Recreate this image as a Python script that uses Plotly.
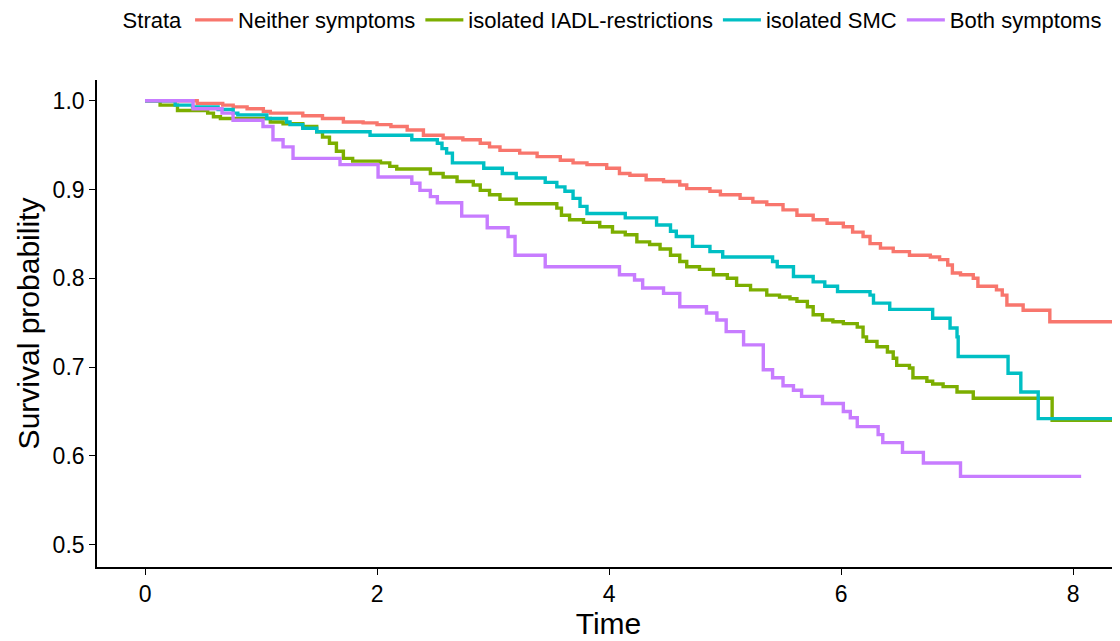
import plotly.graph_objects as go

strata = ["Neither symptoms", "isolated IADL-restrictions", "isolated SMC", "Both symptoms"]
colors = ["#F8766D", "#7CAE00", "#00BFC4", "#C77CFF"]

neither_time = [0, 0.45, 0.67, 0.76, 0.88, 1.02, 1.08, 1.36, 1.53, 1.71, 1.88, 2.0, 2.12, 2.26, 2.40,
                2.57, 2.74, 2.89, 2.97, 3.06, 3.23, 3.38, 3.58, 3.69, 3.81, 3.98, 4.09, 4.18, 4.32,
                4.47, 4.61, 4.67, 4.87, 4.96, 5.13, 5.24, 5.36, 5.50, 5.62, 5.76, 5.88, 6.02, 6.10,
                6.19, 6.25, 6.34, 6.45, 6.59, 6.77, 6.85, 6.92, 6.96, 7.03, 7.14, 7.18, 7.34, 7.39,
                7.43, 7.57, 7.80, 8.6]
neither_surv = [1.0, 0.997, 0.995, 0.993, 0.991, 0.988, 0.986, 0.983, 0.980, 0.976, 0.975, 0.973, 0.971,
                0.967, 0.961, 0.958, 0.956, 0.952, 0.948, 0.944, 0.941, 0.937, 0.933, 0.930, 0.928,
                0.924, 0.918, 0.916, 0.911, 0.909, 0.905, 0.901, 0.898, 0.894, 0.890, 0.886, 0.883,
                0.877, 0.871, 0.866, 0.862, 0.858, 0.852, 0.847, 0.839, 0.834, 0.830, 0.826, 0.824,
                0.821, 0.815, 0.806, 0.804, 0.800, 0.791, 0.787, 0.781, 0.770, 0.764, 0.751, 0.751]

iadl_time = [0, 0.13, 0.28, 0.54, 0.59, 0.65, 1.08, 1.19, 1.36, 1.48, 1.53, 1.59, 1.65, 1.71, 1.79,
             2.03, 2.11, 2.17, 2.46, 2.57, 2.69, 2.83, 2.89, 2.97, 3.06, 3.20, 3.55, 3.59, 3.66, 3.78,
             3.92, 4.03, 4.14, 4.24, 4.35, 4.44, 4.53, 4.61, 4.67, 4.78, 4.90, 5.02, 5.10, 5.22, 5.36,
             5.47, 5.56, 5.62, 5.71, 5.76, 5.84, 5.93, 6.02, 6.14, 6.19, 6.22, 6.31, 6.40, 6.45, 6.48,
             6.59, 6.62, 6.74, 6.79, 6.88, 7.00, 7.14, 7.82, 8.6]
iadl_surv = [1.0, 0.995, 0.989, 0.986, 0.982, 0.980, 0.976, 0.974, 0.971, 0.965, 0.959, 0.952, 0.943,
             0.935, 0.932, 0.930, 0.926, 0.923, 0.918, 0.914, 0.909, 0.905, 0.899, 0.894, 0.889, 0.884,
             0.879, 0.871, 0.866, 0.863, 0.858, 0.852, 0.849, 0.841, 0.838, 0.833, 0.826, 0.819, 0.813,
             0.810, 0.804, 0.800, 0.792, 0.787, 0.781, 0.779, 0.777, 0.774, 0.768, 0.759, 0.753, 0.751,
             0.749, 0.745, 0.734, 0.729, 0.723, 0.717, 0.710, 0.702, 0.699, 0.688, 0.684, 0.681, 0.678,
             0.672, 0.665, 0.640, 0.640]

smc_time = [0, 0.26, 0.41, 0.63, 0.76, 0.80, 1.05, 1.22, 1.25, 1.36, 1.48, 1.94, 2.30, 2.52, 2.56,
            2.60, 2.65, 2.92, 3.08, 3.20, 3.45, 3.55, 3.62, 3.69, 3.75, 3.81, 4.14, 4.41, 4.53, 4.58,
            4.72, 4.87, 4.98, 5.41, 5.45, 5.59, 5.76, 5.86, 5.97, 6.25, 6.28, 6.42, 6.79, 6.94, 7.00,
            7.01, 7.44, 7.55, 7.70, 8.6]
smc_surv = [1.0, 0.995, 0.993, 0.990, 0.986, 0.984, 0.980, 0.976, 0.973, 0.969, 0.965, 0.961, 0.956,
            0.952, 0.946, 0.941, 0.930, 0.924, 0.918, 0.913, 0.908, 0.903, 0.898, 0.890, 0.881, 0.873,
            0.868, 0.860, 0.853, 0.847, 0.836, 0.830, 0.824, 0.819, 0.813, 0.802, 0.796, 0.791, 0.785,
            0.781, 0.772, 0.765, 0.755, 0.744, 0.734, 0.712, 0.693, 0.672, 0.642, 0.642]

both_time = [0, 0.414, 0.664, 0.759, 1.017, 1.103, 1.19, 1.276, 1.681, 2.009, 2.30, 2.37, 2.46, 2.52,
             2.73, 2.95, 3.13, 3.19, 3.45, 4.09, 4.22, 4.29, 4.47, 4.61, 4.84, 4.93, 5.01, 5.16, 5.33,
             5.41, 5.50, 5.59, 5.66, 5.84, 6.02, 6.08, 6.14, 6.32, 6.36, 6.53, 6.71, 7.03, 8.07]
both_surv = [1.0, 0.991, 0.986, 0.978, 0.971, 0.956, 0.948, 0.935, 0.928, 0.914, 0.907, 0.899, 0.892,
             0.885, 0.870, 0.857, 0.847, 0.826, 0.813, 0.804, 0.798, 0.789, 0.783, 0.768, 0.761, 0.753,
             0.740, 0.725, 0.697, 0.688, 0.679, 0.674, 0.667, 0.659, 0.650, 0.643, 0.633, 0.624, 0.615,
             0.604, 0.592, 0.577, 0.577]

x_ticks = [0, 2, 4, 6, 8]
y_ticks = [0.5, 0.6, 0.7, 0.8, 0.9, 1.0]

series = [(neither_time, neither_surv), (iadl_time, iadl_surv), (smc_time, smc_surv), (both_time, both_surv)]

FONT = "Liberation Sans, Arial, Helvetica, sans-serif"

fig = go.Figure()
for name, color, (t, s) in zip(strata, colors, series):
    fig.add_trace(go.Scatter(x=t, y=s, mode="lines", name=name,
                             line=dict(color=color, width=3.4, shape="hv")))

fig.update_layout(
    width=1120, height=641,
    margin=dict(l=89, r=8, t=72, b=82, autoexpand=False),
    paper_bgcolor="white", plot_bgcolor="white",
    font=dict(family=FONT, color="black"),
    showlegend=True,
    legend=dict(orientation="h", x=0.505, xanchor="center", y=1.123, yanchor="middle",
                title=dict(text="Strata", font=dict(size=22, family=FONT, color="black")),
                font=dict(size=22, family=FONT, color="black"),
                itemwidth=38, tracegroupgap=0),
)
fig.update_xaxes(range=[-0.414, 8.405], tickvals=x_ticks, ticktext=[str(v) for v in x_ticks],
                 showgrid=False, zeroline=False, showline=True, linecolor="black", linewidth=1.6,
                 ticks="outside", ticklen=6, tickwidth=1.4, tickcolor="black", automargin=False,
                 tickfont=dict(size=23, color="black", family=FONT),
                 title=dict(text="Time", font=dict(size=30, color="black", family=FONT), standoff=2))
fig.update_yaxes(range=[0.4749, 1.0233], tickvals=y_ticks, ticktext=[f"{v:.1f}" for v in y_ticks],
                 showgrid=False, zeroline=False, showline=True, linecolor="black", linewidth=1.6,
                 ticks="outside", ticklen=6, tickwidth=1.4, tickcolor="black", automargin=False,
                 tickfont=dict(size=23, color="black", family=FONT),
                 title=dict(text="Survival probability", font=dict(size=30, color="black", family=FONT), standoff=4))

fig.write_html("out.html")
